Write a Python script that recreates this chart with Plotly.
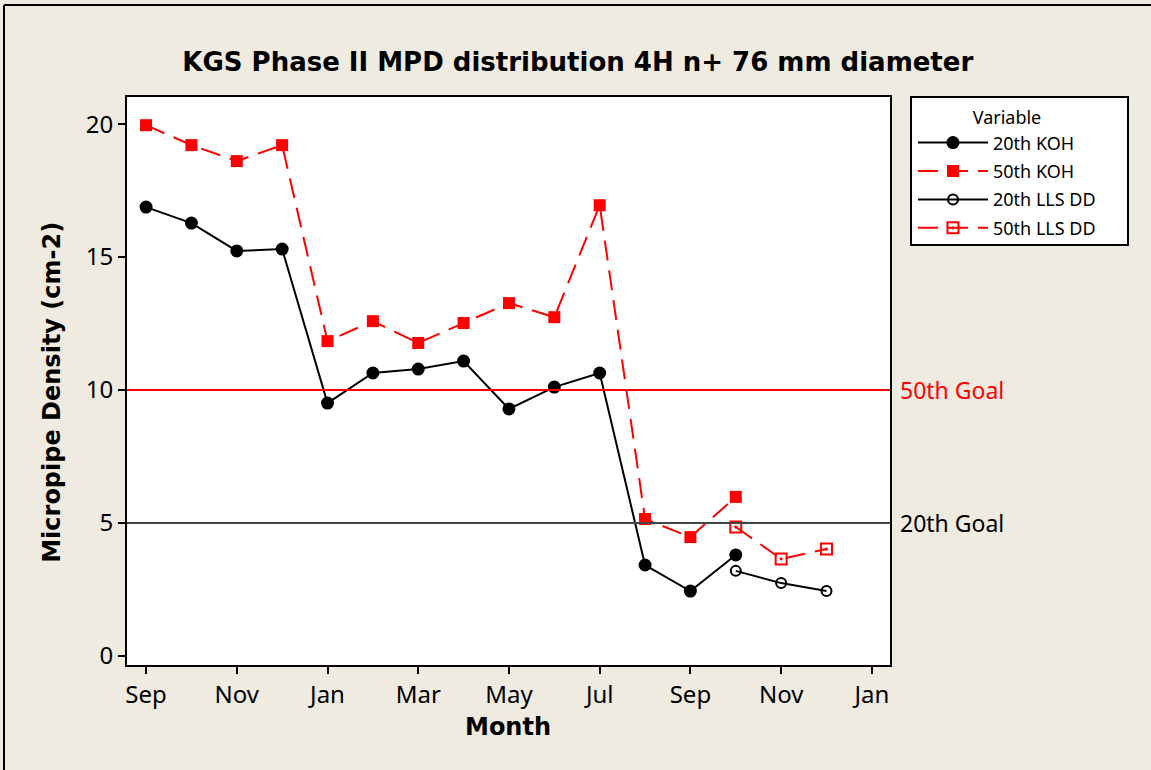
import plotly.graph_objects as go

# ---- data ----
tick_labels = ["Sep", "Nov", "Jan", "Mar", "May", "Jul", "Sep", "Nov", "Jan"]
tick_pos = [0, 2, 4, 6, 8, 10, 12, 14, 16]          # month index (Sep = 0)
y_ticks = [0, 5, 10, 15, 20]

koh_month = [0, 1, 2, 3, 4, 5, 6, 7, 8, 9, 10, 11, 12, 13]
koh_20th = [16.88, 16.28, 15.23, 15.30, 9.51, 10.64, 10.79, 11.09, 9.29, 10.11, 10.64, 3.42, 2.44, 3.80]
koh_50th = [19.96, 19.21, 18.61, 19.21, 11.84, 12.59, 11.77, 12.52, 13.27, 12.74, 16.95, 5.15, 4.47, 5.98]

lls_month = [13, 14, 15]
lls_20th = [3.20, 2.74, 2.44]
lls_50th = [4.85, 3.65, 4.02]

goal_50th = 10
goal_20th = 5

FONT = "Noto Sans, Open Sans, sans-serif"
BOLD = "DejaVu Sans, sans-serif"
BG = "#EFEBE1"
RED = "#FF0000"

fig = go.Figure()
fig.add_trace(go.Scatter(x=koh_month, y=koh_20th, mode="lines+markers", name="20th KOH",
                         legendgroup="a",
                         line=dict(color="black", width=2),
                         marker=dict(symbol="circle", size=13, color="black")))
fig.add_trace(go.Scatter(x=koh_month, y=koh_50th, mode="lines+markers", name="50th KOH",
                         legendgroup="b",
                         line=dict(color=RED, width=2, dash="20px,10px"),
                         marker=dict(symbol="square", size=12, color=RED)))
fig.add_trace(go.Scatter(x=lls_month, y=lls_20th, mode="lines+markers", name="20th LLS DD",
                         legendgroup="c",
                         line=dict(color="black", width=2),
                         marker=dict(symbol="circle-open", size=10, color="black", line=dict(width=2))))
fig.add_trace(go.Scatter(x=lls_month, y=lls_50th, mode="lines+markers", name="50th LLS DD",
                         legendgroup="d",
                         line=dict(color=RED, width=2, dash="20px,10px"),
                         marker=dict(symbol="square-open-dot", size=11, color=RED, line=dict(width=2))))

# goal reference lines
fig.add_hline(y=goal_50th, line=dict(color=RED, width=2))
fig.add_hline(y=goal_20th, line=dict(color="#444444", width=2))
fig.add_annotation(x=1.0, xref="paper", xanchor="left", xshift=8, y=goal_50th, yref="y",
                   text="50th Goal", showarrow=False, font=dict(family=FONT, size=23, color=RED))
fig.add_annotation(x=1.0, xref="paper", xanchor="left", xshift=8, y=goal_20th, yref="y",
                   text="20th Goal", showarrow=False, font=dict(family=FONT, size=23, color="black"))

# axis titles
fig.add_annotation(x=-0.0983, xref="paper", y=0.481, yref="paper", textangle=-90,
                   text="<b>Micropipe Density (cm-2)</b>", showarrow=False,
                   xanchor="center", yanchor="middle", font=dict(family=BOLD, size=24, color="black"))
fig.add_annotation(x=0.4987, xref="paper", y=-0.109, yref="paper",
                   text="<b>Month</b>", showarrow=False,
                   xanchor="center", yanchor="middle", font=dict(family=BOLD, size=24, color="black"))

# outer frame (top and left edges visible)
fig.add_shape(type="line", xref="paper", yref="paper", x0=-0.1612, x1=1.4, y0=1.162, y1=1.162,
              line=dict(color="black", width=2))
fig.add_shape(type="line", xref="paper", yref="paper", x0=-0.1612, x1=-0.1612, y0=-0.3, y1=1.162,
              line=dict(color="black", width=2))
# legend box
fig.add_shape(type="rect", xref="paper", yref="paper",
              x0=(911 - 127) / 763, x1=(1128 - 127) / 763, y0=(665 - 245) / 568, y1=1.0,
              fillcolor="white", line=dict(color="black", width=2), layer="above")

fig.update_layout(
    width=1151, height=770,
    margin=dict(l=127, r=261, t=97, b=105),
    paper_bgcolor=BG, plot_bgcolor="white",
    font=dict(family=FONT, size=22, color="black"),
    title=dict(text="<b>KGS Phase II MPD distribution 4H n+ 76 mm diameter</b>",
               x=0.502, xref="container", xanchor="center", y=1 - 62 / 770, yanchor="middle",
               font=dict(family=BOLD, size=26, color="black")),
    showlegend=True,
    legend=dict(x=1.0275 + 2 / 763, xanchor="left", y=1.0 - 4 / 568, yanchor="top",
                bgcolor="rgba(0,0,0,0)", borderwidth=0,
                font=dict(family=FONT, size=18, color="black"),
                title=dict(text="Variable", side="top center", font=dict(family=FONT, size=18)),
                itemwidth=70, tracegroupgap=2),
)
fig.update_xaxes(range=[-0.42, 16.40], tickmode="array", tickvals=tick_pos, ticktext=tick_labels,
                 showgrid=False, zeroline=False, showline=True, linecolor="black", linewidth=2,
                 mirror=True, ticks="outside", ticklen=7, tickwidth=2, tickcolor="black",
                 tickfont=dict(family=FONT, size=24))
fig.update_yaxes(range=[-0.34, 21.02], tickmode="array", tickvals=y_ticks,
                 showgrid=False, zeroline=False, showline=True, linecolor="black", linewidth=2,
                 mirror=True, ticks="outside", ticklen=7, tickwidth=2, tickcolor="black",
                 tickfont=dict(family=FONT, size=24))

fig.write_html("out.html", config={"displayModeBar": False},
               post_script="document.body.style.margin='0';document.body.style.overflow='hidden';"
                           "document.body.style.background='" + BG + "';")
